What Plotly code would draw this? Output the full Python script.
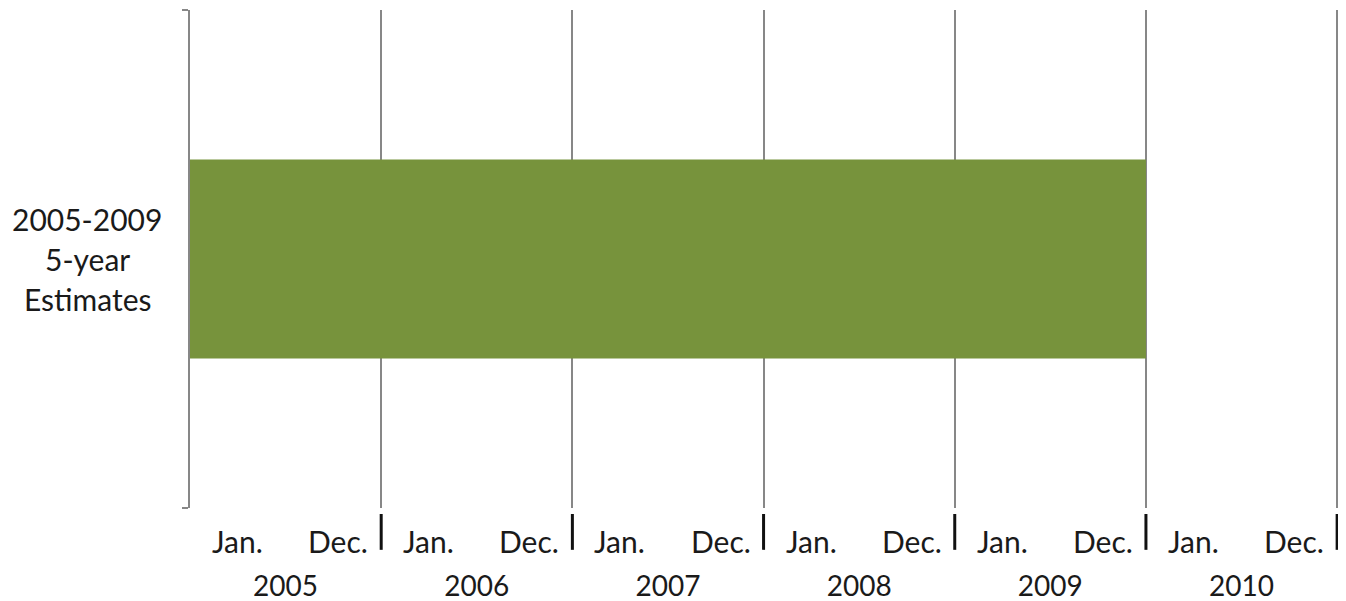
import plotly.graph_objects as go

# data
label_lines = ["2005-2009", "5-year", "Estimates"]
series_label = " ".join(label_lines)
start_year = [2005]
span_years = [5]
years = [2005, 2006, 2007, 2008, 2009, 2010]
month_start = "Jan."
month_end = "Dec."

grid_col = "#878787"
text_col = "#1a1a1a"
font_name = "Lato"
fsize = 30

fig = go.Figure()
fig.add_trace(go.Bar(
    y=[series_label], x=span_years, base=start_year,
    orientation="h", width=0.4,
    marker=dict(color="#77933c", line=dict(width=0)),
    hoverinfo="skip",
))

# Jan. / Dec. labels and the heavy bar after each year
for yr in years:
    fig.add_annotation(x=yr, y=0, xref="x", yref="paper", text=month_start,
                       showarrow=False, xanchor="left", yanchor="middle",
                       xshift=20, yshift=-33,
                       font=dict(family=font_name, size=fsize, color=text_col))
    fig.add_annotation(x=yr + 1, y=0, xref="x", yref="paper", text=month_end,
                       showarrow=False, xanchor="right", yanchor="middle",
                       xshift=-11, yshift=-33,
                       font=dict(family=font_name, size=fsize, color=text_col))
    fig.add_shape(type="line", xref="x", yref="paper", x0=yr + 1, x1=yr + 1,
                  y0=-0.012, y1=-0.084, line=dict(color="#111111", width=3))

# category label, one line at a time so spacing matches
for i, line in enumerate(label_lines):
    fig.add_annotation(x=0, y=series_label, xref="paper", yref="y", text=line,
                       showarrow=False, xanchor="center", yanchor="middle",
                       xshift=-103, yshift=40 * (1 - i),
                       font=dict(family=font_name, size=fsize, color=text_col))

fig.update_layout(
    width=1338, height=593,
    margin=dict(l=182, r=6, t=2, b=93),
    paper_bgcolor="white", plot_bgcolor="white",
    showlegend=False,
    font=dict(family=font_name, size=fsize, color=text_col),
    xaxis=dict(
        range=[2005, 2011.015],
        tickvals=[y + 0.5 for y in years],
        ticktext=[str(y) for y in years],
        tickfont=dict(size=28),
        ticks="", showgrid=False, zeroline=False, showline=False,
        ticklabelstandoff=59, automargin=False,
        minor=dict(tickmode="linear", tick0=2005, dtick=1, showgrid=True,
                   gridcolor=grid_col, gridwidth=1.5, ticks=""),
    ),
    yaxis=dict(
        type="category", showticklabels=False, automargin=False,
        showline=True, linecolor=grid_col, linewidth=1.5,
        ticks="outside", ticklen=6, tickcolor=grid_col, tickwidth=1.5,
        tickson="boundaries", showgrid=False, zeroline=False,
    ),
)

fig.write_html("out.html")
